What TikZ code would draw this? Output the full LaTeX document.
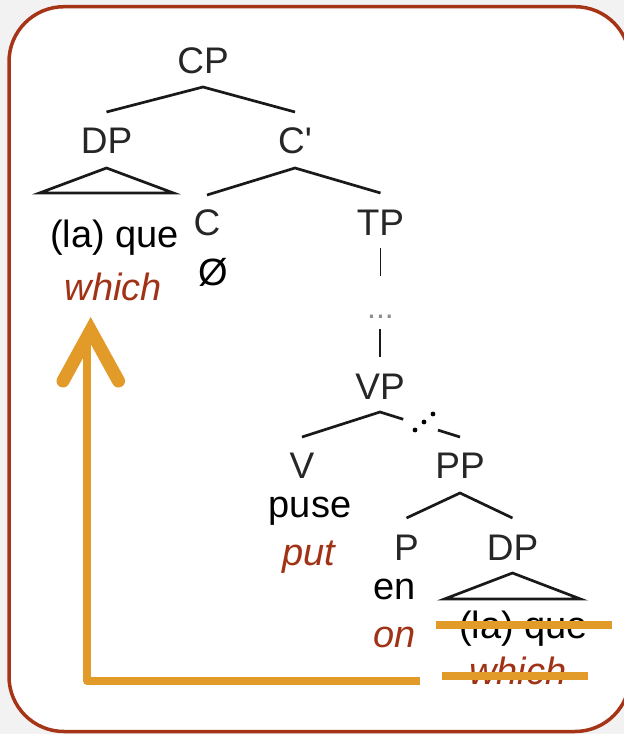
\documentclass[tikz,border=0pt]{standalone}
\usepackage{fontspec}
\setmainfont{Liberation Sans}
\usetikzlibrary{calc}
\definecolor{framebrown}{RGB}{166,52,22}
\definecolor{glossred}{RGB}{160,50,22}
\definecolor{traceorange}{RGB}{226,154,40}
\definecolor{pagegray}{RGB}{242,242,242}
\begin{document}
\begin{tikzpicture}[x=1pt,y=-1pt,
  cat/.style={anchor=base, inner sep=0pt, font=\fontsize{37}{40}\selectfont, text=black!85},
  word/.style={anchor=base, inner sep=0pt, font=\fontsize{38}{42}\selectfont, text=black},
  gloss/.style={anchor=base, inner sep=0pt, font=\fontsize{38}{42}\selectfont\itshape, text=glossred},
  branch/.style={line width=2.7pt, black!90},
  struck/.style={line width=7.5pt, traceorange},
  shaft/.style={line width=8pt, traceorange, line join=round},
  chevron/.style={line width=13pt, traceorange, line cap=round, line join=miter},
  ]
\useasboundingbox (0,0) rectangle (624,734);
\fill[pagegray] (0,0) rectangle (624,734);
\draw[framebrown, line width=3.5pt, fill=white, rounded corners=55pt] (9,6.7) rectangle (630,731.5);

% category labels
\node[cat] (CP)  at (203,73)   {CP};
\node[cat] (DPa) at (106.5,153) {DP};
\node[cat] (Cb)  at (295,153)  {C\textquotesingle};
\node[cat] (C)   at (207,235)  {C};
\node[cat] (TP)  at (380.5,235) {TP};
\node[cat, font=\fontsize{32}{34}\selectfont, text=black!45] (dots) at (380.5,318) {...};
\node[cat] (VP)  at (380,399)  {VP};
\node[cat] (V)   at (302,478)  {V};
\node[cat] (PP)  at (460,478)  {PP};
\node[cat] (P)   at (406.5,560) {P};
\node[cat] (DPb) at (512.5,560) {DP};

% words and glosses
\node[word]  (que1)   at (114.5,247) {(la) que};
\node[gloss] (which1) at (113.5,300) {which};
\node[word]  (null)   at (213,285)   {Ø};
\node[word]  (puse)   at (310,517)   {puse};
\node[gloss] (put)    at (309,565)   {put};
\node[word]  (en)     at (394.5,599) {en};
\node[gloss] (on)     at (394.5,647) {on};
\node[word]  (que2)   at (523.5,638) {(la) que};
\node[gloss] (which2) at (518,684)   {which};

% branches
\coordinate (CPapex) at ([yshift=-14pt]CP.base);
\draw[branch] ([yshift=41pt]DPa.base) -- (CPapex) -- ([yshift=41pt]Cb.base);
\coordinate (Cbapex) at ([yshift=-15pt]Cb.base);
\draw[branch] ([yshift=40pt]C.base) -- (Cbapex) -- ([yshift=42pt]TP.base);
\draw[branch, fill=white] ([yshift=-15pt]DPa.base) -- ++(-67,25) -- ++(134,0) -- cycle;

\draw[branch, line width=1.8pt] ([yshift=-13pt]TP.base) -- ([yshift=-41pt]TP.base);
\draw[branch, line width=1.8pt] ([yshift=70pt]VP.base) -- ([yshift=42pt]VP.base);

\coordinate (VPapex) at ([yshift=-13pt]VP.base);
\coordinate (PPtop) at ([yshift=41pt]PP.base);
\draw[branch] ([yshift=41pt]V.base) -- (VPapex) -- ($(VPapex)!0.29!(PPtop)$);
\draw[branch] ($(VPapex)!0.725!(PPtop)$) -- (PPtop);
\foreach \p in {(415,430),(424,422),(433,414)}
  \fill[black] \p circle (2.4);

\coordinate (PPapex) at ([yshift=-15pt]PP.base);
\draw[branch] ([yshift=42pt]P.base) -- (PPapex) -- ([yshift=42pt]DPb.base);
\draw[branch, fill=white] ([yshift=-13pt]DPb.base) -- ++(-68,26) -- ++(136,0) -- cycle;

% struck-out copy in the base position
\draw[struck] (436,625) -- (612,625);
\draw[struck] (442,676) -- (588,676);

% movement arrow from the trace up to the fronted phrase
\coordinate (trace) at (420,680.5);
\coordinate (landing) at (87,340);
\draw[shaft] (trace) -| (landing);
\draw[chevron] (63,381) -- (90.7,330.5) -- (118.5,381);
\end{tikzpicture}
\end{document}
